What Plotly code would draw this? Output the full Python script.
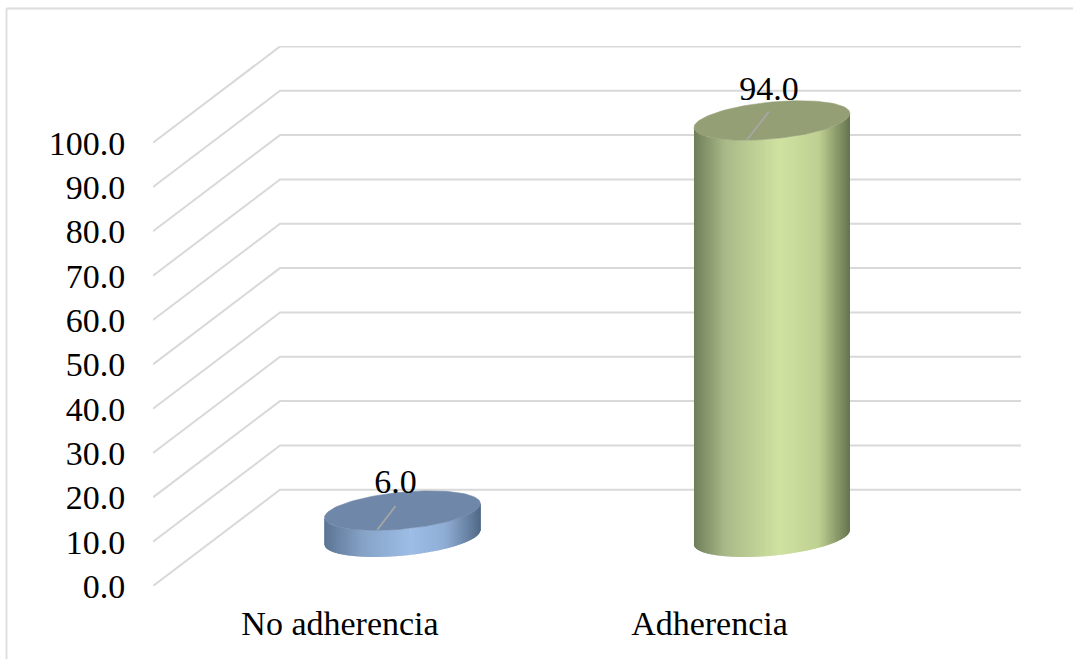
import numpy as np
import plotly.graph_objects as go

categories = ["No adherencia", "Adherencia"]
values = [6.0, 94.0]
value_ticks = [0, 10, 20, 30, 40, 50, 60, 70, 80, 90, 100]
tick_labels = [f"{v:.1f}" for v in value_ticks]

FONT = "Liberation Serif"
FS = 34
GRID = "#d9d9d9"
DX, DY = 0.3437, 21.7          # depth of the 3D box (x units, value units)
X0, X1 = -0.506, 1.843
YTOP = 121.8
HALF_W = 0.211
ELL_B, ELL_T = 4.16, 1.6
CX_OFF, BASE = 0.169, 11.0
OVERLAP = 0.004
sides = [
    [(-1, "#5c7594"), (-0.5, "#86a3c7"), (0.1, "#9dbde6"), (0.55, "#8fadd4"), (1, "#526a88")],
    [(-1, "#6f7e58"), (-0.6, "#a9b989"), (0.1, "#d0e2a0"), (0.6, "#bfd093"), (1, "#66744f")],
]
tops = ["#6f87a8", "#949f75"]
label_off = [(-0.019, 6.0), (-0.008, 6.5)]
leader_off = [[(-0.068, -4.3), (-0.019, 1.0)], [(-0.068, -4.4), (-0.008, 2.0)]]


def mix(stops, u):
    for (u0, c0), (u1, c1) in zip(stops, stops[1:]):
        if u <= u1:
            f = (u - u0) / (u1 - u0)
            a = [int(c0[i:i + 2], 16) for i in (1, 3, 5)]
            b = [int(c1[i:i + 2], 16) for i in (1, 3, 5)]
            return "rgb(%d,%d,%d)" % tuple(round(p + (q - p) * f) for p, q in zip(a, b))
    return stops[-1][1]


def lower(u):
    return ELL_T * u - ELL_B * np.sqrt(max(0.0, 1 - u * u))


fig = go.Figure()

gx, gy = [], []
for v in value_ticks:
    gx += [X0, X0 + DX, X1, None]
    gy += [v, v + DY, v + DY, None]
fig.add_trace(go.Scatter(x=gx, y=gy, mode="lines", line=dict(color=GRID, width=2), hoverinfo="skip"))

for i, val in enumerate(values):
    cx = i + CX_OFF
    thetas = np.linspace(np.pi, 0, 81)
    for t1, t2 in zip(thetas, thetas[1:]):
        u1, u2 = np.cos(t1), np.cos(t2)
        col = mix(sides[i], (u1 + u2) / 2)
        u3 = min(1.0, u2 + OVERLAP / HALF_W)
        xs = [cx + HALF_W * u1, cx + HALF_W * u3, cx + HALF_W * u3, cx + HALF_W * u1, cx + HALF_W * u1]
        ys = [BASE + lower(u1), BASE + lower(u3), BASE + val + lower(u3), BASE + val + lower(u1), BASE + lower(u1)]
        fig.add_trace(go.Scatter(x=xs, y=ys, mode="lines", fill="toself", fillcolor=col,
                                 line=dict(width=0), hoverinfo="skip"))
    t = np.linspace(0, 2 * np.pi, 121)
    ex = cx + HALF_W * np.cos(t)
    ey = BASE + val + ELL_T * np.cos(t) + ELL_B * np.sin(t)
    fig.add_trace(go.Scatter(x=ex, y=ey, mode="lines", fill="toself", fillcolor=tops[i],
                             line=dict(color=tops[i], width=0.6), hoverinfo="skip"))
    (a, b) = leader_off[i]
    fig.add_trace(go.Scatter(x=[cx + a[0], cx + b[0]], y=[BASE + val + a[1], BASE + val + b[1]], mode="lines",
                             line=dict(color="#a6a6a6", width=1.8), hoverinfo="skip"))
    fig.add_trace(go.Scatter(x=[cx + label_off[i][0]], y=[BASE + val + label_off[i][1]], mode="text",
                             text=[f"{val:.1f}"], textposition="middle center",
                             textfont=dict(family=FONT, size=FS, color="#000000"), hoverinfo="skip"))

fig.update_layout(
    width=1073, height=659, showlegend=False,
    margin=dict(l=153, r=52, t=46, b=73, pad=0),
    paper_bgcolor="white", plot_bgcolor="white",
    xaxis=dict(range=[X0, X1], tickmode="array", tickvals=[0, 1], ticktext=categories,
               showgrid=False, zeroline=False, showline=False, ticks="outside", ticklen=7,
               tickcolor="rgba(0,0,0,0)", tickfont=dict(family=FONT, size=FS, color="#000000")),
    yaxis=dict(range=[0, YTOP], tickmode="array", tickvals=value_ticks, ticktext=tick_labels,
               showgrid=False, zeroline=False, showline=False, ticks="outside", ticklen=20,
               tickcolor="rgba(0,0,0,0)", tickfont=dict(family=FONT, size=FS, color="#000000")),
    shapes=[
        dict(type="line", xref="paper", yref="paper", x0=-146.5 / 868, x1=920 / 868,
             y0=(586 - 8.5) / 540, y1=(586 - 8.5) / 540, line=dict(color="#dcdcdc", width=1.8)),
        dict(type="line", xref="paper", yref="paper", x0=-146.5 / 868, x1=-146.5 / 868,
             y0=(586 - 8.5) / 540, y1=-73 / 540, line=dict(color="#dcdcdc", width=1.8)),
    ],
)
fig.write_html("out.html", config={"displayModeBar": False},
               post_script="document.body.style.margin='0';document.body.style.overflow='hidden';")
